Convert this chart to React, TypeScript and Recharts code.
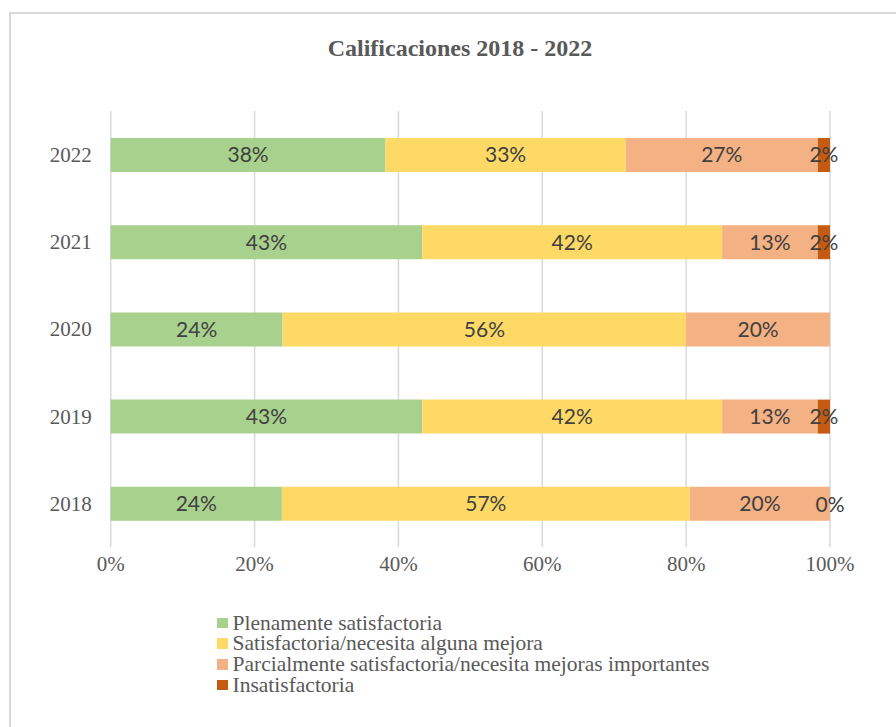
import React from "react";
import { BarChart, Bar, XAxis, YAxis, CartesianGrid, LabelList } from "recharts";

const years = ["2018", "2019", "2020", "2021", "2022"];
const plenamente = [23.8, 43.3, 23.9, 43.3, 38.2];
const satisfactoria = [56.7, 41.7, 56.1, 41.7, 33.4];
const parcialmente = [19.5, 13.3, 20.0, 13.3, 26.7];
const insatisfactoria: (number | null)[] = [0, 1.7, null, 1.7, 1.7];

const seriesNames = [
    "Plenamente satisfactoria",
    "Satisfactoria/necesita alguna mejora",
    "Parcialmente satisfactoria/necesita mejoras importantes",
    "Insatisfactoria",
];
const seriesKeys = ["plena", "satis", "parcial", "insatis"];
const seriesColors = ["#A9D18E", "#FFD966", "#F4B183", "#C55A11"];
const xTicks = [0, 20, 40, 60, 80, 100];

const serif = "'Liberation Serif', 'Times New Roman', serif";
const labelFont = "Lato, 'Open Sans', sans-serif";

const data = years.map((year, i) => ({
    year,
    plena: plenamente[i],
    satis: satisfactoria[i],
    parcial: parcialmente[i],
    insatis: insatisfactoria[i],
}));

const fmtLabel = (v: any) => (v === null || v === undefined || v === 0 ? "" : `${Math.round(v)}%`);

// a zero-width bar gets no label from recharts, so draw it at the end of the stack
const zeroLabel = (props: any) => {
    const { x, y, width, height, index } = props;
    if (insatisfactoria[index] !== 0) return null;
    return (
        <text
            x={Number(x) + Number(width)}
            y={Number(y) + Number(height) / 2}
            textAnchor="middle"
            dominantBaseline="central"
            fill="#404040"
            fontSize={21}
            fontFamily={labelFont}
        >
            0%
        </text>
    );
};

const App = () => {
    return (
        <div style={{ position: "absolute", left: 0, top: 0, width: 896, height: 727, background: "#fff" }}>
            <div
                style={{
                    position: "absolute",
                    left: 9,
                    top: 12,
                    width: 887,
                    height: 715,
                    borderLeft: "2px solid #d9d9d9",
                    borderTop: "2px solid #d9d9d9",
                    boxSizing: "border-box",
                }}
            />
            <div
                style={{
                    position: "absolute",
                    left: 210,
                    width: 500,
                    top: 34,
                    textAlign: "center",
                    fontFamily: serif,
                    fontWeight: "bold",
                    fontSize: 24,
                    lineHeight: "28px",
                    color: "#595959",
                }}
            >
                Calificaciones 2018 - 2022
            </div>
            <div style={{ position: "absolute", left: 0, top: 0 }}>
                <BarChart
                    width={896}
                    height={727}
                    data={data}
                    layout="vertical"
                    margin={{ top: 111, right: 66, left: 0, bottom: 140 }}
                >
                    <CartesianGrid horizontal={false} stroke="#d9d9d9" strokeWidth={1.5} />
                    <XAxis
                        type="number"
                        domain={[0, 100]}
                        ticks={xTicks}
                        tickFormatter={(v: number) => `${v}%`}
                        axisLine={false}
                        tickLine={false}
                        tickSize={0}
                        tickMargin={9}
                        height={40}
                        interval={0}
                        tick={{ fill: "#595959", fontSize: 21, fontFamily: serif }}
                    />
                    <YAxis
                        type="category"
                        dataKey="year"
                        reversed
                        width={110.7}
                        axisLine={false}
                        tickLine={false}
                        tickSize={0}
                        tickMargin={19}
                        tick={{ fill: "#595959", fontSize: 21, fontFamily: serif }}
                    />
                    {seriesKeys.map((key, i) => (
                        <Bar
                            key={key}
                            dataKey={key}
                            name={seriesNames[i]}
                            stackId="a"
                            fill={seriesColors[i]}
                            barSize={34}
                            isAnimationActive={false}
                        >
                            <LabelList
                                dataKey={key}
                                position="center"
                                formatter={fmtLabel}
                                fill="#404040"
                                fontSize={21}
                                fontFamily={labelFont}
                            />
                            {key === "parcial" && <LabelList dataKey={key} content={zeroLabel} />}
                        </Bar>
                    ))}
                </BarChart>
            </div>
            <div style={{ position: "absolute", left: 217, top: 612.6 }}>
                {seriesNames.map((name, i) => (
                    <div
                        key={name}
                        style={{
                            display: "flex",
                            alignItems: "center",
                            height: 20.7,
                            lineHeight: "20.7px",
                            fontFamily: serif,
                            fontSize: 21.5,
                            color: "#595959",
                            whiteSpace: "nowrap",
                        }}
                    >
                        <span
                            style={{
                                display: "inline-block",
                                width: 10.5,
                                height: 10.5,
                                background: seriesColors[i],
                                marginRight: 5,
                            }}
                        />
                        {name}
                    </div>
                ))}
            </div>
        </div>
    );
};

export default App;
